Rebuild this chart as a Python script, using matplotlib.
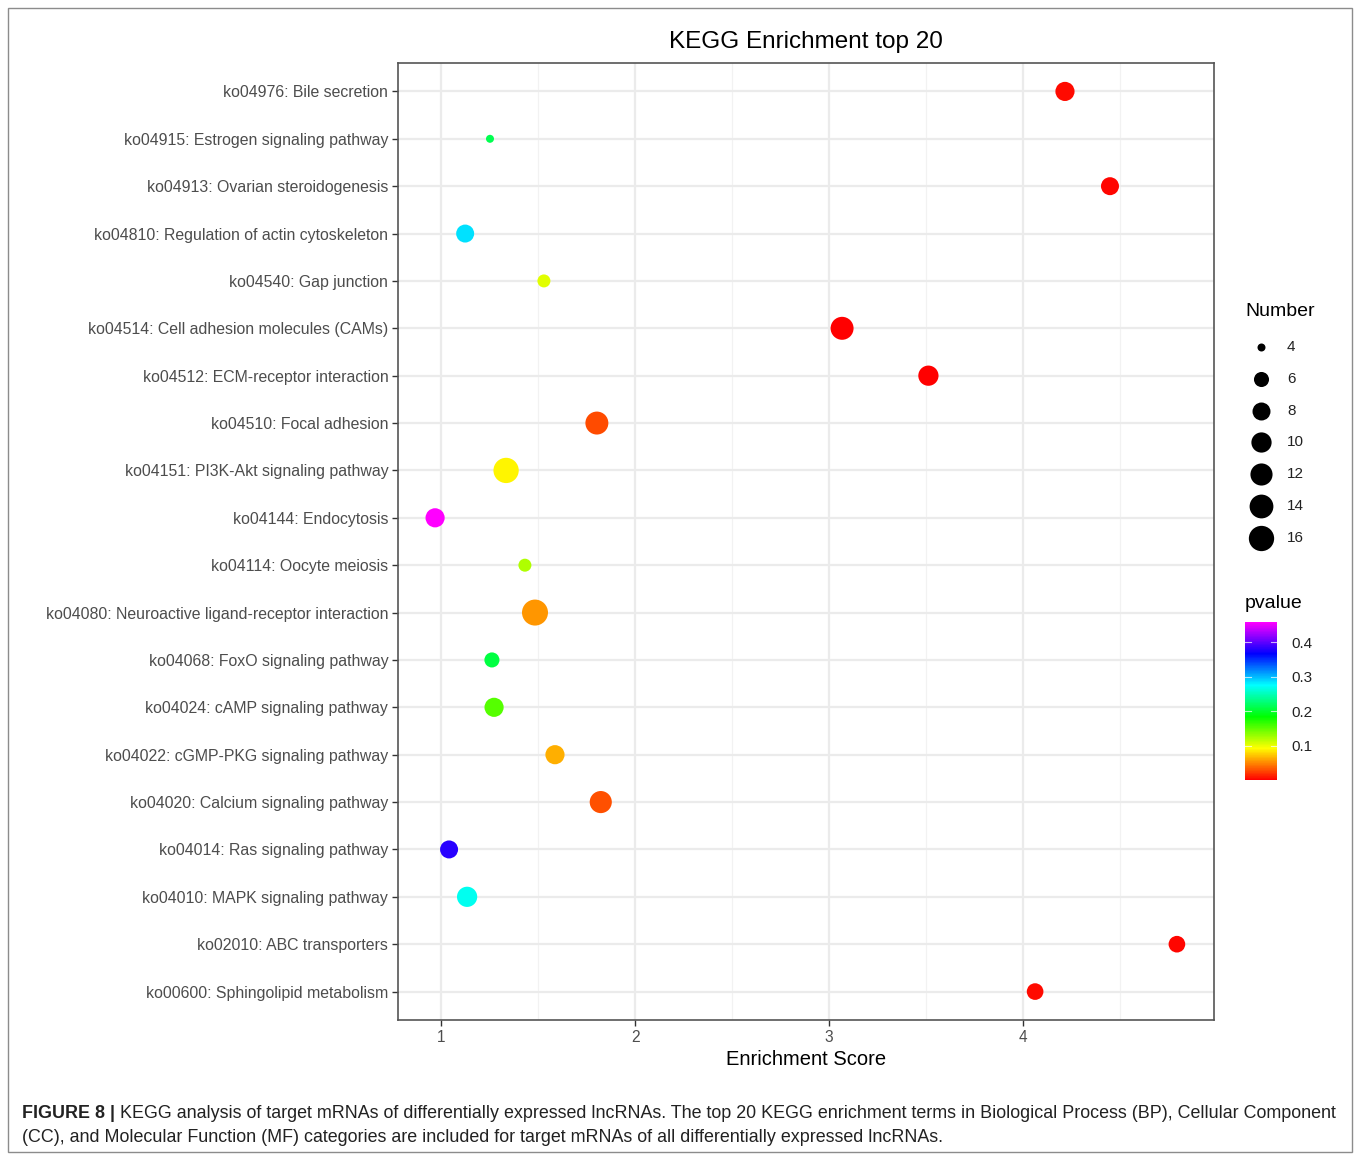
import colorsys
import numpy as np
import matplotlib
matplotlib.use("Agg")
import matplotlib.pyplot as plt
from matplotlib.colors import LinearSegmentedColormap, Normalize
from matplotlib.patches import Rectangle

plt.rcParams["font.family"] = ["Liberation Sans", "DejaVu Sans"]

# KEGG terms, top to bottom
terms = [
    "ko04976: Bile secretion",
    "ko04915: Estrogen signaling pathway",
    "ko04913: Ovarian steroidogenesis",
    "ko04810: Regulation of actin cytoskeleton",
    "ko04540: Gap junction",
    "ko04514: Cell adhesion molecules (CAMs)",
    "ko04512: ECM-receptor interaction",
    "ko04510: Focal adhesion",
    "ko04151: PI3K-Akt signaling pathway",
    "ko04144: Endocytosis",
    "ko04114: Oocyte meiosis",
    "ko04080: Neuroactive ligand-receptor interaction",
    "ko04068: FoxO signaling pathway",
    "ko04024: cAMP signaling pathway",
    "ko04022: cGMP-PKG signaling pathway",
    "ko04020: Calcium signaling pathway",
    "ko04014: Ras signaling pathway",
    "ko04010: MAPK signaling pathway",
    "ko02010: ABC transporters",
    "ko00600: Sphingolipid metabolism",
]
enrichment = [4.216, 1.252, 4.448, 1.124, 1.530, 3.067, 3.512, 1.803, 1.335, 0.969,
              1.432, 1.484, 1.262, 1.273, 1.587, 1.823, 1.041, 1.134, 4.793, 4.062]
number = [9, 4, 8, 8, 5, 13, 10, 13, 16, 9,
          5, 17, 6, 9, 9, 12, 8, 10, 7, 7]
pvalue = [0.005, 0.212, 0.003, 0.285, 0.103, 0.001, 0.002, 0.029, 0.089, 0.458,
          0.121, 0.055, 0.207, 0.153, 0.064, 0.031, 0.380, 0.270, 0.004, 0.006]

size_breaks = [4, 6, 8, 10, 12, 14, 16]
p_breaks = [0.1, 0.2, 0.3, 0.4]

# rainbow colour scale: red -> magenta
hues = np.linspace(0, 5 / 6, 256)
cmap = LinearSegmentedColormap.from_list("rainbow_hsv", [colorsys.hsv_to_rgb(h, 1, 1) for h in hues])
norm = Normalize(vmin=min(pvalue), vmax=max(pvalue))

# point area scale (diameter in px, sqrt scaling)
nmin, nmax = min(number), max(number)
dmin_px, dmax_px = 8.0, 26.0


def marker_area(n):
    n = np.asarray(n, dtype=float)
    d_px = dmin_px + (dmax_px - dmin_px) * np.sqrt((n - nmin) / (nmax - nmin))
    d_pt = d_px * 72 / 100
    return d_pt ** 2


W, H = 1360, 1157
fig = plt.figure(figsize=(W / 100, H / 100), dpi=100)

# outer frame
fig.patches.append(Rectangle((8 / W, 1 - 1152 / H), 1344 / W, 1144 / H, transform=fig.transFigure,
                             fill=False, edgecolor="#8c8c8c", linewidth=1.0))

ax = fig.add_axes([398 / W, 1 - 1020 / H, (1214 - 398) / W, (1020 - 63) / H])
ypos = np.arange(len(terms))[::-1]

ax.scatter(enrichment, ypos, s=marker_area(number), c=pvalue, cmap=cmap, norm=norm,
           edgecolors="none", zorder=3)

xmin, xmax = min(enrichment), max(enrichment)
pad = 0.05 * (xmax - xmin)
ax.set_xlim(xmin - pad, xmax + pad)
ax.set_ylim(-0.6, len(terms) - 0.4)

ax.set_xticks([1, 2, 3, 4])
ax.set_xticks([1.5, 2.5, 3.5, 4.5], minor=True)
ax.set_yticks(ypos)
ax.set_yticklabels(terms)
ax.grid(which="major", color="#ebebeb", linewidth=1.6, zorder=0)
ax.grid(which="minor", axis="x", color="#f2f2f2", linewidth=0.9, zorder=0)
ax.set_axisbelow(True)
ax.tick_params(axis="both", which="major", length=4, width=1.0, color="#333333",
               labelcolor="#4d4d4d", labelsize=11.2, pad=3)
ax.tick_params(axis="y", labelsize=11.4)
ax.tick_params(axis="x", which="minor", length=0)
for sp in ax.spines.values():
    sp.set_color("#555555")
    sp.set_linewidth(1.2)

ax.set_xlabel("Enrichment Score", fontsize=14.5, labelpad=4)
ax.set_title("KEGG Enrichment top 20", fontsize=17.5, pad=11)

# size legend
fig.text(1245 / W, 1 - 312 / H, "Number", fontsize=14, va="center", ha="left")
leg_y = 347
for b in size_breaks:
    fig.add_artist(plt.Line2D([1261 / W], [1 - leg_y / H], transform=fig.transFigure,
                              marker="o", markersize=np.sqrt(marker_area(b)),
                              color="black", markeredgewidth=0, linestyle="none"))
    fig.text(1287 / W, 1 - leg_y / H, str(b), fontsize=11, va="center", ha="left", color="#222222")
    leg_y += 31.8

# colour bar
fig.text(1245 / W, 1 - 604 / H, "pvalue", fontsize=14, va="center", ha="left")
cax = fig.add_axes([1245 / W, 1 - 780 / H, 32 / W, 158 / H])
cb = fig.colorbar(plt.cm.ScalarMappable(norm=norm, cmap=cmap), cax=cax)
cb.outline.set_visible(False)
cb.set_ticks(p_breaks)
cb.set_ticklabels([str(p) for p in p_breaks])
cax.tick_params(length=0, labelsize=11, labelcolor="#222222", pad=10)
for p in p_breaks:
    cax.plot([0, 0.2], [p, p], color="white", linewidth=0.8, alpha=0.7)
    cax.plot([0.8, 1], [p, p], color="white", linewidth=0.8, alpha=0.7)
cax.set_xlim(0, 1)

# caption
cap_size = 12.9
head = fig.text(22 / W, 1 - 1113 / H, "FIGURE 8 |", fontsize=cap_size, fontweight="bold",
                va="center", ha="left", color="#222222")
fig.text(22 / W, 1 - 1138 / H,
         "(CC), and Molecular Function (MF) categories are included for target mRNAs of all differentially "
         "expressed lncRNAs.",
         fontsize=cap_size, va="center", ha="left", color="#222222")
fig.canvas.draw()
bb = head.get_window_extent()
fig.text((bb.x1 + 5) / W, 1 - 1113 / H,
         "KEGG analysis of target mRNAs of differentially expressed lncRNAs. The top 20 KEGG "
         "enrichment terms in Biological Process (BP), Cellular Component",
         fontsize=cap_size, va="center", ha="left", color="#222222")

fig.savefig("out.png", dpi=100)
